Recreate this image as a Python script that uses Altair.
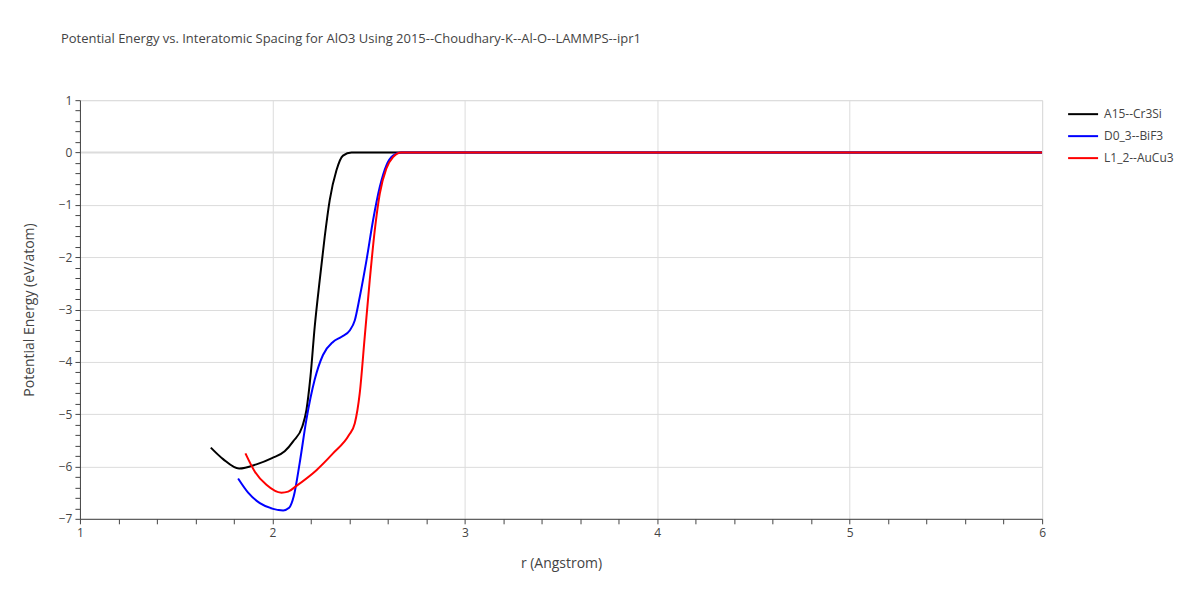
import altair as alt
import pandas as pd

series_names = ["A15--Cr3Si", "D0_3--BiF3", "L1_2--AuCu3"]
series_colors = ["black", "blue", "red"]

a15_r = [1.680, 1.744, 1.827, 1.917, 1.998, 2.064, 2.108, 2.156, 2.177, 2.198, 2.220, 2.246, 2.272, 2.298, 2.333, 2.367, 2.411, 3.0, 4.0, 5.0, 6.0]
a15_e = [-5.64, -5.86, -6.04, -5.96, -5.84, -5.71, -5.52, -5.23, -4.92, -4.28, -3.33, -2.44, -1.61, -0.91, -0.34, -0.06, 0.0, 0.0, 0.0, 0.0, 0.0]

d03_r = [1.822, 1.874, 1.935, 2.004, 2.056, 2.087, 2.111, 2.142, 2.177, 2.220, 2.263, 2.315, 2.360, 2.402, 2.428, 2.454, 2.489, 2.523, 2.558, 2.592, 2.627, 2.670, 3.0, 4.0, 5.0, 6.0]
d03_e = [-6.23, -6.50, -6.70, -6.81, -6.84, -6.79, -6.57, -5.93, -5.10, -4.34, -3.87, -3.62, -3.52, -3.40, -3.21, -2.76, -2.06, -1.30, -0.66, -0.25, -0.06, 0.0, 0.0, 0.0, 0.0, 0.0]

l12_r = [1.860, 1.909, 1.969, 2.047, 2.082, 2.125, 2.229, 2.315, 2.398, 2.428, 2.454, 2.480, 2.506, 2.532, 2.558, 2.592, 2.627, 2.670, 3.0, 4.0, 5.0, 6.0]
l12_e = [-5.75, -6.10, -6.35, -6.50, -6.48, -6.37, -6.07, -5.75, -5.40, -5.18, -4.60, -3.52, -2.44, -1.49, -0.79, -0.31, -0.09, 0.0, 0.0, 0.0, 0.0, 0.0]

x_tick_values = [1.0, 1.2, 1.4, 1.6, 1.8, 2.0, 2.2, 2.4, 2.6, 2.8, 3.0, 3.2, 3.4, 3.6, 3.8, 4.0,
                 4.2, 4.4, 4.6, 4.8, 5.0, 5.2, 5.4, 5.6, 5.8, 6.0]
y_tick_values = [-7.0, -6.8, -6.6, -6.4, -6.2, -6.0, -5.8, -5.6, -5.4, -5.2, -5.0, -4.8, -4.6, -4.4, -4.2,
                 -4.0, -3.8, -3.6, -3.4, -3.2, -3.0, -2.8, -2.6, -2.4, -2.2, -2.0, -1.8, -1.6, -1.4,
                 -1.2, -1.0, -0.8, -0.6, -0.4, -0.2, 0.0, 0.2, 0.4, 0.6, 0.8, 1.0]

rows = []
for name, rs, es in [(series_names[0], a15_r, a15_e), (series_names[1], d03_r, d03_e), (series_names[2], l12_r, l12_e)]:
    for r, e in zip(rs, es):
        rows.append({"series": name, "r": r, "E": e})
df = pd.DataFrame(rows)

FONT = "Open Sans"
TXT = "#444"
is_int = "abs(datum.value - round(datum.value)) < 0.001"

x_axis = alt.Axis(
    values=x_tick_values,
    labelExpr=f"{is_int} ? format(datum.value, 'd') : ''",
    labelFlush=False, labelOverlap=False,
    grid=True,
    gridColor="#dcdcdc",
    gridOpacity={"condition": {"test": is_int, "value": 1}, "value": 0},
    domain=True, domainColor=TXT, domainWidth=1,
    tickColor=TXT, tickSize=5, tickWidth=1,
    labelColor=TXT, labelFontSize=12, labelFont=FONT, labelPadding=4,
    title="r (Angstrom)", titleFont=FONT, titleFontSize=14, titleColor=TXT,
    titleFontWeight="normal", titlePadding=18,
)
y_axis = alt.Axis(
    values=y_tick_values,
    labelExpr=f"{is_int} ? format(datum.value, 'd') : ''",
    labelFlush=False, labelOverlap=False,
    grid=True,
    gridColor="#dcdcdc",
    gridOpacity={"condition": {"test": is_int, "value": 1}, "value": 0},
    gridWidth={"condition": {"test": "abs(datum.value) < 0.001", "value": 2}, "value": 1},
    domain=True, domainColor=TXT, domainWidth=1,
    tickColor=TXT, tickSize=5, tickWidth=1,
    labelColor=TXT, labelFontSize=12, labelFont=FONT, labelPadding=3,
    title="Potential Energy (eV/atom)", titleFont=FONT, titleFontSize=14, titleColor=TXT,
    titleFontWeight="normal", titlePadding=22,
)

chart = alt.Chart(df).mark_line(strokeWidth=2, clip=True, interpolate="monotone").encode(
    x=alt.X("r:Q", scale=alt.Scale(domain=[1, 6], nice=False, zero=False), axis=x_axis),
    y=alt.Y("E:Q", scale=alt.Scale(domain=[-7, 1], nice=False, zero=False), axis=y_axis),
    color=alt.Color("series:N", scale=alt.Scale(domain=series_names, range=series_colors),
                    legend=alt.Legend(title=None, orient="none", legendX=988, legendY=-2,
                                      symbolType="stroke", symbolSize=900, symbolStrokeWidth=2,
                                      labelFont=FONT, labelFontSize=12, labelColor=TXT,
                                      rowPadding=-4.5, labelOffset=5)),
    order=alt.Order("r:Q"),
).properties(
    width=963, height=419,
    title=alt.TitleParams(
        "Potential Energy vs. Interatomic Spacing for AlO3 Using 2015--Choudhary-K--Al-O--LAMMPS--ipr1",
        anchor="start", frame="group", dx=-19, offset=48, font=FONT, fontSize=13,
        fontWeight="normal", color=TXT,
    ),
    autosize=alt.AutoSizeParams(type="none"),
    padding={"left": 72, "top": 92, "right": 150, "bottom": 70},
).configure_view(stroke=None).configure(background="white")

chart.save("out.html", embed_options={"renderer": "svg", "actions": False})
